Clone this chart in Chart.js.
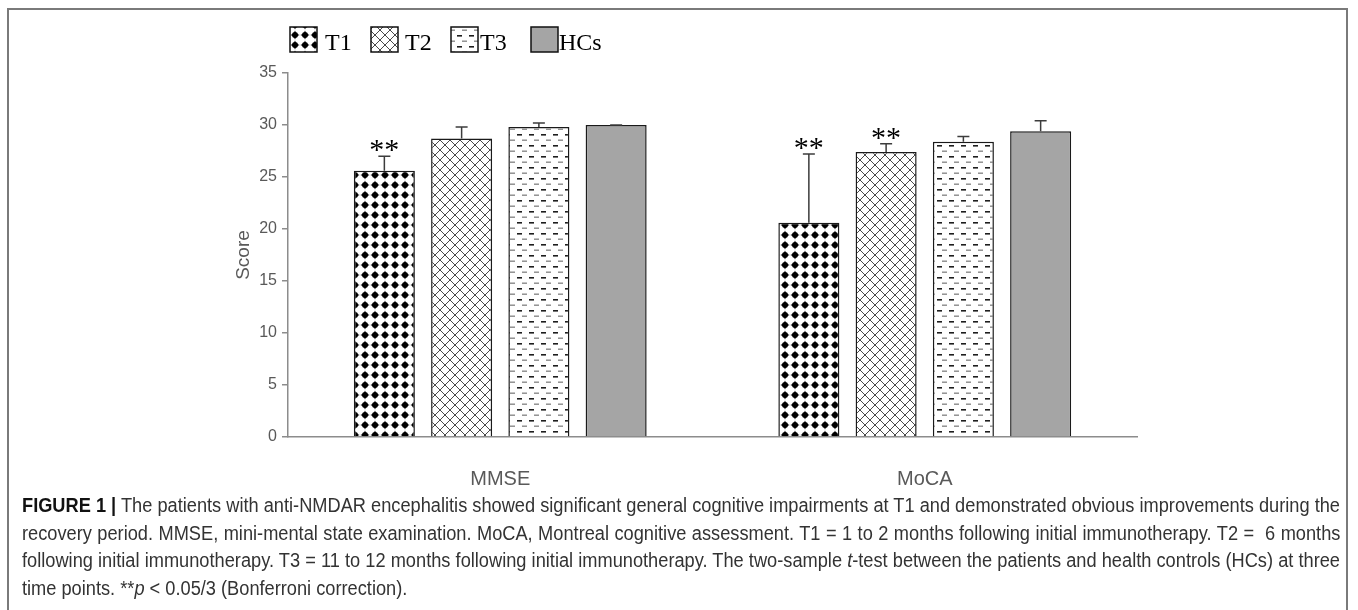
<!DOCTYPE html>
<html>
<head>
<meta charset="utf-8">
<script src="https://cdn.jsdelivr.net/npm/chart.js@4.4.0/dist/chart.umd.min.js"></script>
<style>
  body { margin: 0; background: #fff; width: 1358px; height: 610px; overflow: hidden; position: relative; }
  #frame { position: absolute; left: 7px; top: 8px; width: 1341px; height: 640px; border: 2px solid #7a7a7a; box-sizing: border-box; }
  #chartBox { position: absolute; left: 0; top: 0; width: 1358px; height: 500px; }
  #caption { position: absolute; left: 22px; top: 492px; width: 1318px; color: #333;
             font-family: "Liberation Sans Narrow", "Liberation Sans", Arial, sans-serif; font-size: 20px; line-height: 27.5px; }
  #caption .line { white-space: nowrap; }
  #caption .line span { display: inline-block; transform-origin: 0 0; }
  #caption b { color: #111; }
</style>
</head>
<body>
<div id="frame"></div>
<div id="chartBox"><canvas id="scoreChart"></canvas></div>
<div id="caption">
  <div class="line fill"><span><b>FIGURE 1 |</b> The patients with anti-NMDAR encephalitis showed significant general cognitive impairments at T1 and demonstrated obvious improvements during the</span></div>
  <div class="line fill"><span>recovery period. MMSE, mini-mental state examination. MoCA, Montreal cognitive assessment. T1 = 1 to 2 months following initial immunotherapy. T2 =&nbsp; 6 months</span></div>
  <div class="line fill"><span>following initial immunotherapy. T3 = 11 to 12 months following initial immunotherapy. The two-sample <i>t</i>-test between the patients and health controls (HCs) at three</span></div>
  <div class="line"><span>time points. **<i>p</i> &lt; 0.05/3 (Bonferroni correction).</span></div>
</div>
<script>
// scores per group (MMSE, MoCA) with the upper error value
const categories = ['MMSE', 'MoCA'];
const seriesNames = ['T1', 'T2', 'T3', 'HCs'];
const t1Scores = [25.6, 20.6];
const t2Scores = [28.7, 27.4];
const t3Scores = [29.8, 28.4];
const hcScores = [30.0, 29.4];
const t1Errors = [1.4, 6.6];
const t2Errors = [1.1, 0.8];
const t3Errors = [0.4, 0.5];
const hcErrors = [0.0, 1.0];
const t1Marks = ['**', '**'];
const t2Marks = ['', '**'];
const t3Marks = ['', ''];
const hcMarks = ['', ''];
const yTickValues = [0, 5, 10, 15, 20, 25, 30, 35];

const axisGrey = '#8c8c8c';
const labelGrey = '#595959';

function makePattern(kind) {
    const c = document.createElement('canvas');
    const g = c.getContext('2d');
    if (kind === 'dots') {
        c.width = 10; c.height = 10;
        g.fillStyle = '#fff'; g.fillRect(0, 0, 10, 10);
        g.fillStyle = '#000';
        g.beginPath(); g.arc(5, 5, 3, 0, Math.PI * 2); g.fill();
        g.beginPath();
        g.moveTo(5, 0.4); g.lineTo(7, 5); g.lineTo(5, 9.6); g.lineTo(3, 5); g.closePath(); g.fill();
        g.beginPath();
        g.moveTo(0.4, 5); g.lineTo(5, 3); g.lineTo(9.6, 5); g.lineTo(5, 7); g.closePath(); g.fill();
    } else if (kind === 'cross') {
        c.width = 10; c.height = 10;
        g.fillStyle = '#fff'; g.fillRect(0, 0, 10, 10);
        g.strokeStyle = '#4a4a4a'; g.lineWidth = 1;
        g.beginPath();
        g.moveTo(-1, -1); g.lineTo(11, 11);
        g.moveTo(11, -1); g.lineTo(-1, 11);
        g.stroke();
    } else if (kind === 'dash') {
        c.width = 12; c.height = 11;
        g.fillStyle = '#fff'; g.fillRect(0, 0, 12, 11);
        g.fillStyle = '#1e1e1e'; g.fillRect(1, 2, 5, 1.6);
        g.fillStyle = '#8a8a8a'; g.fillRect(6, 7.5, 5, 1.4);
    }
    return g.createPattern(c, 'repeat');
}

const fills = [makePattern('dots'), makePattern('cross'), makePattern('dash'), '#a5a5a5'];
const scoreSets = [t1Scores, t2Scores, t3Scores, hcScores];
const errorSets = [t1Errors, t2Errors, t3Errors, hcErrors];
const markSets = [t1Marks, t2Marks, t3Marks, hcMarks];

// upward error bars and significance stars on top of each bar
const errorBars = {
    id: 'errorBars',
    afterDatasetsDraw(chart) {
        const ctx = chart.ctx;
        const yScale = chart.scales.y;
        ctx.save();
        chart.data.datasets.forEach((ds, i) => {
            const meta = chart.getDatasetMeta(i);
            meta.data.forEach((bar, j) => {
                const top = yScale.getPixelForValue(ds.data[j] + ds.errors[j]);
                ctx.strokeStyle = '#3c3c3c';
                ctx.lineWidth = 1.5;
                ctx.beginPath();
                ctx.moveTo(bar.x, bar.y);
                ctx.lineTo(bar.x, top);
                ctx.moveTo(bar.x - 6, top);
                ctx.lineTo(bar.x + 6, top);
                ctx.stroke();
                if (ds.marks[j]) {
                    ctx.fillStyle = '#000';
                    ctx.font = '30px "Liberation Serif", serif';
                    ctx.textAlign = 'center';
                    ctx.textBaseline = 'alphabetic';
                    ctx.fillText(ds.marks[j], bar.x, top + 3);
                }
            });
        });
        ctx.restore();
    }
};

// legend row above the plot, pattern swatch followed by the series name
const patternLegend = {
    id: 'patternLegend',
    afterDraw(chart) {
        const ctx = chart.ctx;
        const boxX = [290, 371, 451, 531];
        const textX = [325, 405, 480, 559];
        ctx.save();
        chart.data.datasets.forEach((ds, i) => {
            ctx.fillStyle = ds.backgroundColor;
            ctx.fillRect(boxX[i], 27, 27, 25);
            ctx.strokeStyle = '#111';
            ctx.lineWidth = 1.5;
            ctx.strokeRect(boxX[i], 27, 27, 25);
            ctx.fillStyle = '#000';
            ctx.font = '24px "Liberation Serif", serif';
            ctx.textBaseline = 'alphabetic';
            ctx.fillText(ds.label, textX[i], 50);
        });
        ctx.restore();
    }
};

const ctx = document.getElementById('scoreChart').getContext('2d');
const scoreChart = new Chart(ctx, {
    type: 'bar',
    data: {
        labels: categories,
        datasets: seriesNames.map((name, i) => ({
            label: name,
            data: scoreSets[i],
            errors: errorSets[i],
            marks: markSets[i],
            backgroundColor: fills[i],
            borderColor: '#1a1a1a',
            borderWidth: 1.5,
            borderSkipped: 'bottom',
            categoryPercentage: 0.728,
            barPercentage: 0.79
        }))
    },
    options: {
        responsive: true,
        maintainAspectRatio: false,
        animation: false,
        layout: { padding: { left: 228, right: 221, top: 73, bottom: 0 } },
        plugins: {
            legend: { display: false },
            tooltip: { enabled: false }
        },
        scales: {
            x: {
                grid: { display: false },
                border: { color: axisGrey, width: 1.5 },
                ticks: { color: labelGrey, padding: 22, font: { family: '"Liberation Sans", Arial, sans-serif', size: 20 } },
                afterFit(scale) { scale.height = 63; }
            },
            y: {
                min: 0,
                max: 35,
                afterBuildTicks(scale) { scale.ticks = yTickValues.map(v => ({ value: v })); },
                grid: { display: true, drawOnChartArea: false, drawTicks: true, tickLength: 6, color: axisGrey, lineWidth: 1.5 },
                border: { color: axisGrey, width: 1.5 },
                ticks: { color: labelGrey, padding: 5, font: { family: '"Liberation Sans", Arial, sans-serif', size: 16 } },
                title: { display: true, text: 'Score', color: labelGrey, font: { family: '"Liberation Sans", Arial, sans-serif', size: 19 } },
                afterFit(scale) { scale.width = 60; }
            }
        }
    },
    plugins: [errorBars, patternLegend]
});

// fit caption lines to the column width
const captionWidth = 1318;
const lines = document.querySelectorAll('#caption .line span');
let squeeze = 1;
lines.forEach(span => {
    const w = span.getBoundingClientRect().width;
    if (w > captionWidth) squeeze = Math.min(squeeze, captionWidth / w);
});
lines.forEach(span => {
    const full = span.parentNode.classList.contains('fill');
    if (full) {
        const w = span.getBoundingClientRect().width * squeeze;
        const gaps = (span.textContent.match(/ /g) || []).length;
        if (w < captionWidth && gaps) {
            span.style.wordSpacing = ((captionWidth - w) / gaps / squeeze) + 'px';
        }
    }
    if (squeeze < 1) span.style.transform = 'scaleX(' + squeeze + ')';
});
</script>
</body>
</html>
